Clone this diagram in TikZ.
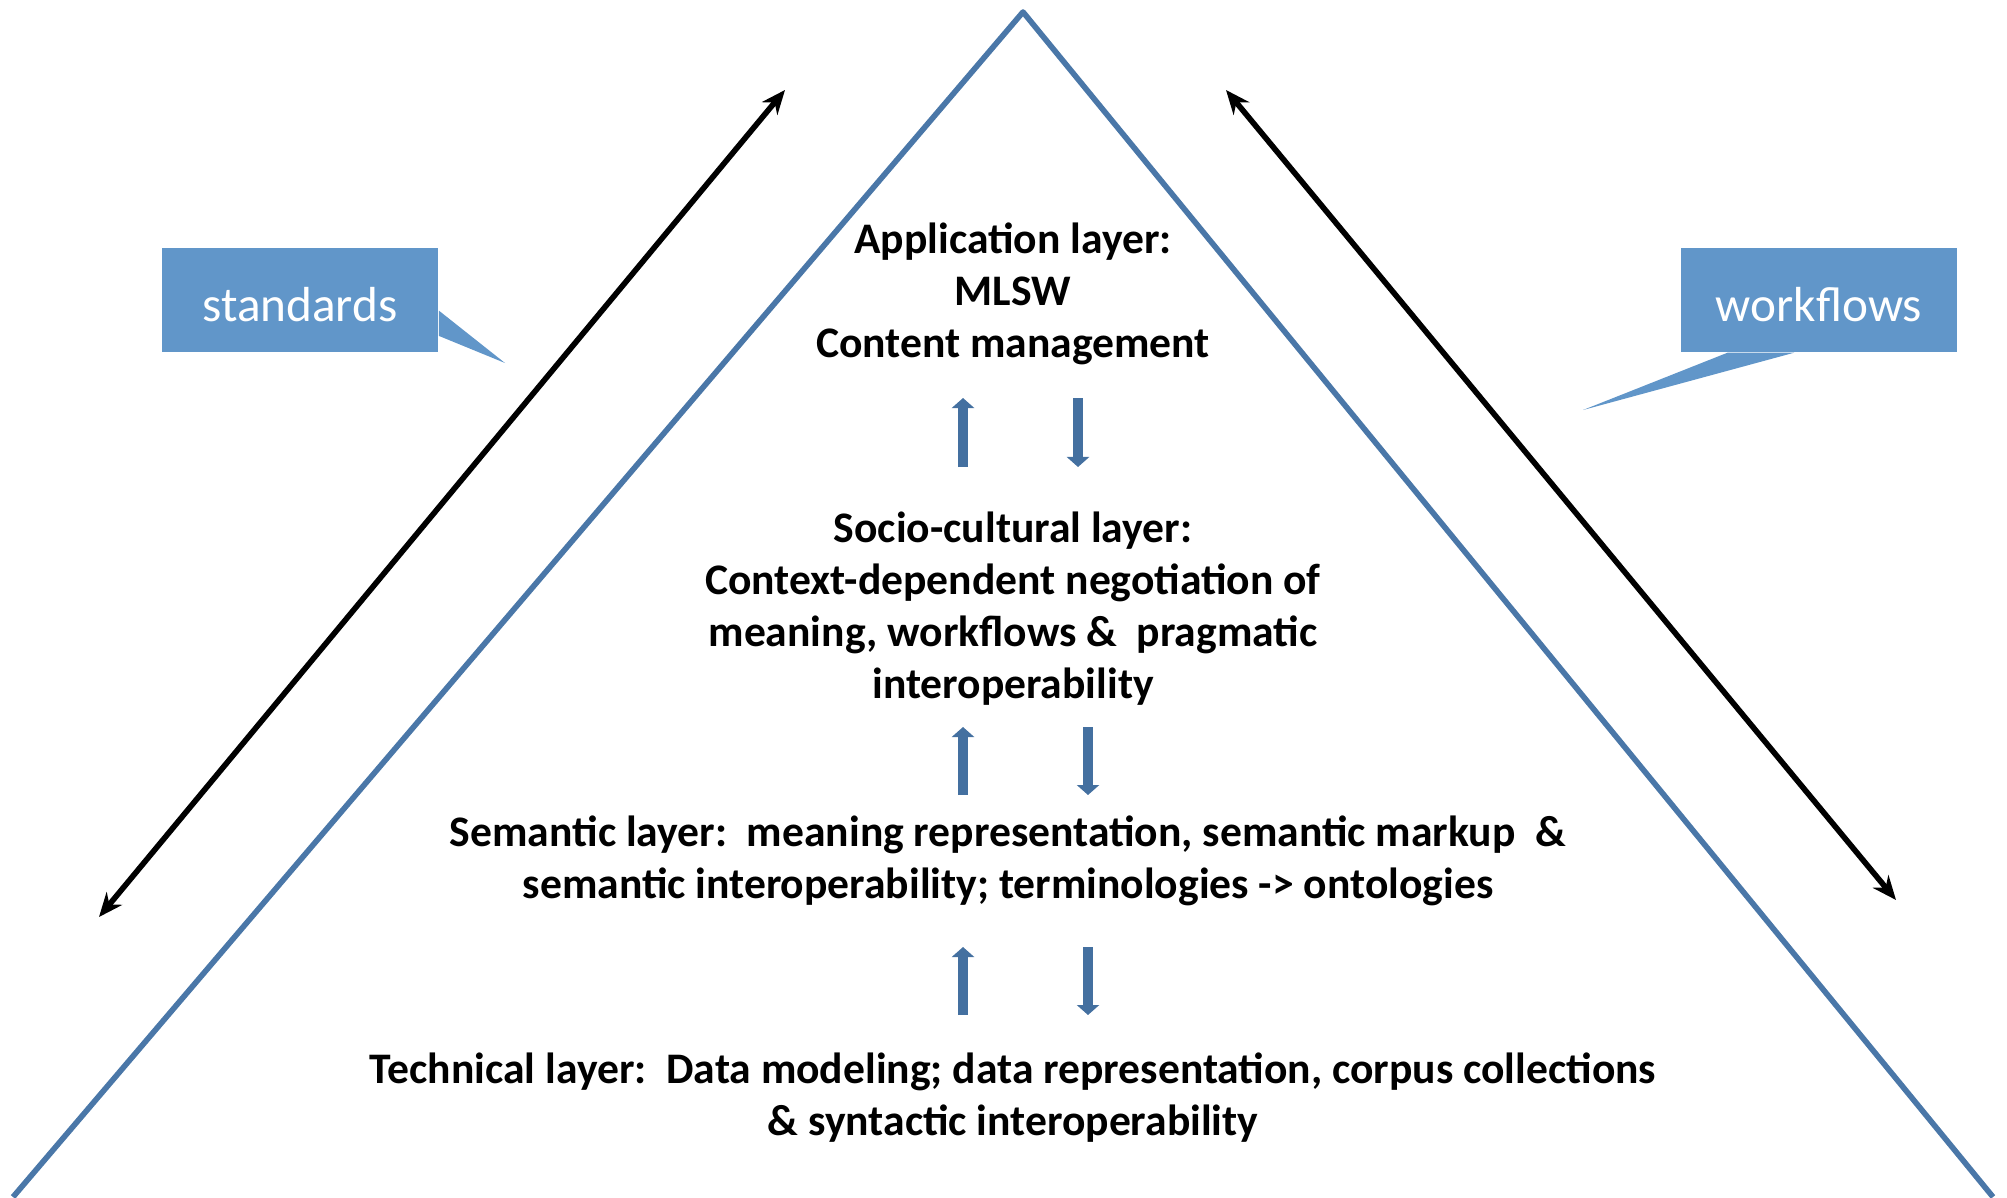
\documentclass[tikz,border=0pt]{standalone}
\usepackage{fontspec}
\setmainfont{Carlito}
\usepackage{tikz}
\usetikzlibrary{arrows.meta}
\usetikzlibrary{positioning}
\usetikzlibrary{calc}

\definecolor{pyramid}{RGB}{74,119,168}
\definecolor{calloutblue}{RGB}{97,150,201}
\definecolor{updownblue}{RGB}{68,112,160}

\tikzset{
  layer/.style={align=center, inner sep=0pt, font=\bfseries\fontsize{12.4}{14.8}\selectfont},
  callout/.style={fill=calloutblue, text=white, minimum width=2.76cm, minimum height=1.04cm, inner sep=0pt, text height=12pt, text depth=0pt, font=\fontsize{14}{16}\selectfont},
  updown/.style={updownblue, line width=0.1cm, -{Triangle[width=0.22cm,length=0.1cm]}},
  spanarrow/.style={black, line width=1.6pt, {Stealth[length=0.24cm,width=0.2cm]}-{Stealth[length=0.24cm,width=0.2cm]}}
}

\begin{document}
\begin{tikzpicture}[x=0.01cm, y=-0.01cm]
  \useasboundingbox (0,0) rectangle (2007,1197);

	%pyramid
  \coordinate (apex) at (1023,12);
  \coordinate (baseL) at (13,1197);
  \coordinate (baseR) at (1993,1197);
  \draw[pyramid, line width=1.6pt, line join=round] (baseL) -- (apex) -- (baseR);

	%black double arrows
  \coordinate (stdA) at (99,917);
  \coordinate (stdB) at (785,90);
  \coordinate (wfA) at (1226,90);
  \coordinate (wfB) at (1896,900);
  \draw[spanarrow] (stdA) -- (stdB);
  \draw[spanarrow] (wfA) -- (wfB);

	%callouts
  \node[callout] (std) at (300,300) {standards};
  \coordinate (stdtip) at (505,363);
  \fill[calloutblue] ($(std.north east)!0.6!(std.south east)$) -- (stdtip) -- ($(std.north east)!0.84!(std.south east)$) -- cycle;

  \node[callout] (wf) at (1819,300) {workflows};
  \coordinate (wftip) at (1583,410);
  \fill[calloutblue] ($(wf.south west)!0.17!(wf.south east)$) -- (wftip) -- ($(wf.south west)!0.41!(wf.south east)$) -- cycle;

	%layers
  \node[layer] (app) at (1013,294) {Application layer:\\ MLSW\\ Content management};
  \node[layer] (soc) at (1013,609) {Socio-cultural layer:\\ Context-dependent negotiation of\\ meaning, workflows \&\ \ pragmatic\\ interoperability};
  \node[layer] (sem) at (1008,861) {Semantic layer:\ \ meaning representation, semantic markup\ \ \&\\ semantic interoperability; terminologies -> ontologies};
  \node[layer] (tec) at (1013,1098) {Technical layer:\ \ Data modeling; data representation, corpus collections\\ \& syntactic interoperability};

	%up and down arrows
  \foreach \top/\bot/\xd/\name in {398/467/1078/app,727/795/1088/soc,947/1015/1088/sem}{
    \coordinate (\name u1) at (963,\bot);
    \coordinate (\name u2) at (963,\top);
    \coordinate (\name d1) at (\xd,\top);
    \coordinate (\name d2) at (\xd,\bot);
    \draw[updown] (\name u1) -- (\name u2);
    \draw[updown] (\name d1) -- (\name d2);
  }

\end{tikzpicture}
\end{document}
